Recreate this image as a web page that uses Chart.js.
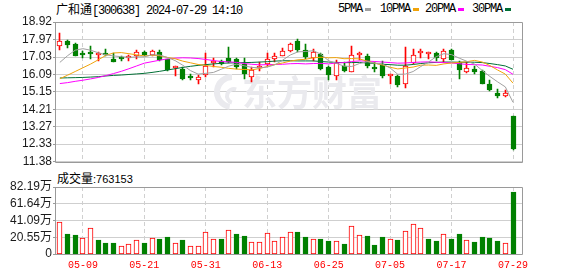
<!DOCTYPE html>
<html>
<head>
<meta charset="utf-8">
<script src="https://cdn.jsdelivr.net/npm/chart.js@4.4.1/dist/chart.umd.min.js"></script>
<style>
  html, body { margin: 0; padding: 0; background: #fff; }
  body { width: 578px; height: 276px; position: relative; overflow: hidden; }
  canvas { position: absolute; left: 0; }
  .t { position: absolute; font: 12px "Liberation Mono", monospace; letter-spacing: -1.2px; line-height: 14px; color: #000; white-space: nowrap; }
  .cn { font-family: "Noto Sans CJK SC"; letter-spacing: 0; }
  .sw { position: absolute; width: 6px; height: 3px; top: 8px; }
  .vl { position: absolute; left: 57px; top: 170px; font: 12px "Noto Sans CJK SC"; line-height: 16px; white-space: nowrap; }
  .vl span { font: 11px "Liberation Sans"; }
</style>
</head>
<body>
<div class="t" style="left:56px;top:2px"><span class="cn">广和通</span>[300638] 2024-07-29 14:10</div>
<div class="t" style="left:338px;top:2px">5PMA</div><div class="sw" style="left:365px;background:#a0a0a0"></div>
<div class="t" style="left:380px;top:2px">10PMA</div><div class="sw" style="left:413px;background:#f0a30a"></div>
<div class="t" style="left:425px;top:2px">20PMA</div><div class="sw" style="left:458px;background:#ff00ff"></div>
<div class="t" style="left:472px;top:2px">30PMA</div><div class="sw" style="left:505px;background:#006f35"></div>
<div class="vl">成交量<span>:763153</span></div>
<canvas id="kline" width="578" height="170" style="top:0"></canvas>
<canvas id="vol" width="578" height="100" style="top:176px"></canvas>
<script>
// 日期（交易日）
const dates = ['05-06','05-07','05-08','05-09','05-10','05-13','05-14','05-15','05-16','05-17',
  '05-20','05-21','05-22','05-23','05-24','05-27','05-28','05-29','05-30','05-31',
  '06-03','06-04','06-05','06-06','06-07','06-11','06-12','06-13','06-14','06-17',
  '06-18','06-19','06-20','06-21','06-24','06-25','06-26','06-27','06-28','07-01',
  '07-02','07-03','07-04','07-05','07-08','07-09','07-10','07-11','07-12','07-15',
  '07-16','07-17','07-18','07-19','07-22','07-23','07-24','07-25','07-26','07-29'];

const openP = [17.62,17.92,17.76,17.22,17.25,17.12,17.21,16.92,16.97,16.97,
  17.06,17.32,17.14,17.32,16.92,16.44,16.39,15.91,15.77,16.04,
  16.71,16.80,16.97,16.92,16.65,15.95,16.43,16.65,16.92,17.09,
  17.35,17.88,17.41,16.97,17.18,16.48,15.99,16.56,16.25,17.13,
  17.09,16.48,16.60,16.00,16.00,15.60,16.71,17.23,17.22,17.23,
  16.95,17.39,16.74,16.21,16.39,16.30,15.56,15.07,14.95,13.87];
const highP = [18.32,17.93,17.78,17.35,17.65,17.32,17.44,17.27,17.10,17.14,
  17.39,17.34,17.40,17.39,16.93,16.56,16.48,16.12,16.04,17.27,
  17.00,16.85,17.56,17.00,17.00,16.48,16.77,17.27,17.27,17.53,
  17.80,18.02,17.71,17.44,17.27,16.56,16.86,16.74,17.62,17.31,
  17.20,16.74,16.80,16.12,16.04,17.58,17.44,17.48,17.29,17.32,
  17.48,17.48,16.80,16.74,16.56,16.35,15.77,15.28,15.25,13.87];
const lowP = [17.41,17.50,17.06,16.97,16.92,16.84,17.06,16.74,16.83,16.83,
  16.92,17.11,17.06,16.83,16.30,16.00,15.77,15.77,15.56,15.95,
  16.48,16.62,16.72,16.39,15.86,15.69,16.30,16.56,16.74,17.06,
  17.32,17.32,16.95,16.83,16.35,15.81,15.81,16.25,16.21,16.85,
  16.45,16.21,15.92,15.55,15.43,15.35,16.65,16.97,16.92,16.83,
  16.75,16.85,15.86,16.18,16.12,15.55,15.19,14.81,14.90,12.04];
const closeP = [17.90,17.67,17.10,17.13,17.20,17.18,17.16,16.77,16.92,17.04,
  17.32,17.13,17.35,16.88,16.35,16.51,15.86,15.88,15.95,16.56,
  16.77,16.68,16.74,16.48,16.12,16.35,16.56,16.95,17.09,17.35,
  17.76,17.41,17.04,17.28,16.39,16.04,16.70,16.30,17.16,17.19,
  16.53,16.39,16.00,16.07,15.51,16.56,17.13,17.31,17.29,16.97,
  17.35,16.88,16.35,16.43,16.25,15.60,15.25,14.93,15.07,12.08];

const volume = [387000,244000,232000,191000,313000,171000,130000,130000,102000,118000,
  167000,130000,191000,183000,204000,130000,171000,98000,98000,265000,
  179000,183000,289000,240000,220000,142000,142000,252000,159000,204000,
  273000,265000,204000,179000,183000,159000,159000,122000,342000,232000,
  220000,110000,204000,183000,171000,281000,362000,313000,183000,159000,
  240000,183000,244000,171000,142000,204000,199000,159000,130000,763153];

// 均线
const ma5 = [16.74,17.10,17.40,17.48,17.40,17.26,17.15,17.09,17.05,17.01,
  17.04,17.04,17.15,17.14,17.01,16.84,16.59,16.30,16.11,16.15,
  16.20,16.37,16.54,16.65,16.56,16.47,16.45,16.49,16.61,16.86,
  17.14,17.31,17.33,17.37,17.18,16.83,16.69,16.54,16.52,16.68,
  16.78,16.71,16.65,16.44,16.10,16.11,16.25,16.52,16.76,17.05,
  17.21,17.16,16.97,16.80,16.65,16.30,15.98,15.69,15.42,14.59];
const ma10 = [15.86,16.05,16.25,16.45,16.65,16.88,17.12,17.25,17.27,17.21,
  17.15,17.09,17.12,17.10,17.01,16.94,16.81,16.72,16.63,16.58,
  16.52,16.48,16.42,16.38,16.36,16.34,16.41,16.52,16.63,16.71,
  16.81,16.88,16.91,16.99,17.02,16.99,17.00,16.94,16.95,16.93,
  16.81,16.70,16.60,16.48,16.39,16.44,16.49,16.59,16.60,16.58,
  16.66,16.71,16.74,16.78,16.85,16.76,16.57,16.33,16.11,15.62];
const ma20 = [15.60,15.65,15.72,15.78,15.85,15.93,16.03,16.14,16.26,16.40,
  16.55,16.70,16.78,16.86,16.93,16.97,16.99,16.98,16.95,16.90,
  16.84,16.79,16.77,16.74,16.68,16.64,16.61,16.62,16.63,16.64,
  16.67,16.68,16.66,16.68,16.69,16.66,16.71,16.73,16.79,16.82,
  16.81,16.79,16.76,16.73,16.70,16.71,16.74,16.76,16.77,16.75,
  16.73,16.71,16.67,16.63,16.62,16.60,16.53,16.46,16.35,16.10];
const ma30 = [15.90,15.91,15.92,15.93,15.95,15.97,16.01,16.04,16.06,16.09,
  16.12,16.15,16.20,16.26,16.33,16.40,16.47,16.53,16.58,16.62,
  16.66,16.69,16.71,16.72,16.73,16.74,16.76,16.78,16.81,16.83,
  16.83,16.82,16.82,16.82,16.79,16.76,16.74,16.73,16.73,16.74,
  16.71,16.69,16.64,16.62,16.59,16.59,16.63,16.68,16.72,16.74,
  16.76,16.76,16.75,16.75,16.75,16.73,16.68,16.62,16.55,16.37];

// 坐标刻度
const priceTicks = [11.38, 12.33, 13.27, 14.21, 15.15, 16.09, 17.03, 17.97, 18.92];
const volTicks = [0, 205500, 410900, 616400, 821900];
const volTickLabels = ['0', '20.55万', '41.09万', '61.64万', '82.19万'];
const dateTickIdx = [3, 11, 19, 27, 35, 43, 51, 59];

const UP = '#ff0000';
const DOWN = '#008000';
const X_MIN = -0.5, X_MAX = 60.17;

const candleUp = closeP.map((c, i) => c > openP[i]);
const volUp = closeP.map((c, i) => i === 0 ? true : c >= closeP[i - 1]);

// 让柱子落在整像素上
const snapBars = {
  id: 'snapBars',
  afterDatasetsUpdate(chart) {
    chart.data.datasets.forEach((ds, i) => {
      const meta = chart.getDatasetMeta(i);
      if (meta.type !== 'bar') return;
      meta.data.forEach(el => {
        el.x = Math.floor(el.x) + 0.5;
        el.y = Math.round(el.y);
        el.base = Math.round(el.base);
      });
    });
  }
};

// 外框
const frame = {
  id: 'frame',
  afterDraw(chart) {
    const { ctx, chartArea: a } = chart;
    const x0 = Math.round(a.left) - 0.5, x1 = Math.round(a.right) + 0.5;
    const y0 = Math.round(a.top) + 0.5, y1 = Math.round(a.bottom) + 0.5;
    ctx.save();
    ctx.strokeStyle = '#9a9a9a';
    ctx.lineWidth = 1;
    ctx.beginPath();
    ctx.moveTo(x0, y0); ctx.lineTo(x1, y0); ctx.lineTo(x1, y1); ctx.lineTo(x0, y1); ctx.closePath();
    ctx.stroke();
    ctx.restore();
  }
};

// 水印
const watermark = {
  id: 'watermark',
  beforeDatasetsDraw(chart) {
    const ctx = chart.ctx;
    ctx.save();
    ctx.fillStyle = '#eaeaee';
    ctx.strokeStyle = '#eaeaee';
    ctx.lineWidth = 6;
    ctx.beginPath();
    ctx.arc(232, 92, 15, 0.55 * Math.PI, 1.5 * Math.PI);
    ctx.stroke();
    ctx.lineWidth = 4;
    ctx.beginPath();
    ctx.arc(234, 96, 7, 0.6 * Math.PI, 1.6 * Math.PI);
    ctx.stroke();
    ctx.font = 'bold 35px "Noto Sans CJK SC"';
    ctx.textBaseline = 'middle';
    ctx.fillText('东方财富', 242, 93);
    ctx.restore();
  }
};

function xScale(showLabels) {
  return {
    type: 'linear',
    min: X_MIN,
    max: X_MAX,
    offset: false,
    bounds: 'data',
    afterBuildTicks: s => { s.ticks = dateTickIdx.map(v => ({ value: v })); },
    afterFit: s => { s.height = showLabels ? 22 : 0; },
    grid: { offset: false, color: '#d0d0d0', lineWidth: 1, drawTicks: false },
    border: { display: false, dash: [4, 3] },
    ticks: {
      display: showLabels,
      autoSkip: false,
      maxRotation: 0,
      padding: 5,
      color: UP,
      font: { family: 'Liberation Mono', size: 10 },
      callback: v => dates[v]
    }
  };
}

const baseOptions = {
  responsive: false,
  animation: false,
  devicePixelRatio: 1,
  events: [],
  plugins: { legend: { display: false }, tooltip: { enabled: false } }
};

new Chart(document.getElementById('kline'), {
  type: 'bar',
  data: {
    datasets: [
      { type: 'line', data: ma5.map((v, i) => ({ x: i, y: v })), borderColor: '#a0a0a0', borderWidth: 1, pointRadius: 0, order: 0 },
      { type: 'line', data: ma10.map((v, i) => ({ x: i, y: v })), borderColor: '#f0a30a', borderWidth: 1, pointRadius: 0, order: 0 },
      { type: 'line', data: ma20.map((v, i) => ({ x: i, y: v })), borderColor: '#ff00ff', borderWidth: 1, pointRadius: 0, order: 0 },
      { type: 'line', data: ma30.map((v, i) => ({ x: i, y: v })), borderColor: '#006f35', borderWidth: 1, pointRadius: 0, order: 0 },
      {
        data: openP.map((o, i) => ({ x: i, y: [o, closeP[i]] })),
        backgroundColor: candleUp.map(u => u ? '#ffffff' : DOWN),
        borderColor: candleUp.map(u => u ? UP : DOWN),
        borderWidth: 1,
        borderSkipped: false,
        grouped: false,
        barThickness: 5,
        maxBarThickness: 5,
        minBarLength: 2,
        order: 1
      },
      {
        data: lowP.map((l, i) => ({ x: i, y: [l, highP[i]] })),
        backgroundColor: candleUp.map(u => u ? UP : DOWN),
        borderWidth: 0,
        grouped: false,
        barThickness: 1,
        maxBarThickness: 1,
        order: 2
      }
    ]
  },
  options: Object.assign({}, baseOptions, {
    layout: { padding: { top: 22, bottom: 5, left: 0, right: 56 } },
    scales: {
      x: xScale(false),
      y: {
        min: 11.38,
        max: 18.92,
        afterBuildTicks: s => { s.ticks = priceTicks.map(v => ({ value: v })); },
        afterFit: s => { s.width = 56; },
        grid: { color: '#cfcfcf', tickLength: 3, tickColor: '#9a9a9a' },
        border: { display: false },
        ticks: {
          autoSkip: false,
          padding: 1,
          color: '#1a1a1a',
          font: { family: 'Liberation Sans', size: 12 },
          callback: v => v.toFixed(2)
        }
      }
    }
  }),
  plugins: [snapBars, watermark, frame]
});

new Chart(document.getElementById('vol'), {
  type: 'bar',
  data: {
    datasets: [{
      data: volume.map((v, i) => ({ x: i, y: v })),
      backgroundColor: volUp.map(u => u ? '#ffffff' : DOWN),
      borderColor: volUp.map(u => u ? UP : DOWN),
      borderWidth: 1,
      borderSkipped: false,
      grouped: false,
      barThickness: 5,
      maxBarThickness: 5
    }]
  },
  options: Object.assign({}, baseOptions, {
    layout: { padding: { top: 11, bottom: 0, left: 0, right: 56 } },
    scales: {
      x: xScale(true),
      y: {
        min: 0,
        max: 821900,
        afterBuildTicks: s => { s.ticks = volTicks.map(v => ({ value: v })); },
        afterFit: s => { s.width = 56; },
        grid: { color: '#cfcfcf', tickLength: 3, tickColor: '#9a9a9a' },
        border: { display: false },
        ticks: {
          autoSkip: false,
          padding: 1,
          color: '#1a1a1a',
          font: { family: 'Liberation Sans, Noto Sans CJK SC', size: 12 },
          callback: v => volTickLabels[volTicks.indexOf(v)]
        }
      }
    }
  }),
  plugins: [snapBars, frame]
});
</script>
</body>
</html>
